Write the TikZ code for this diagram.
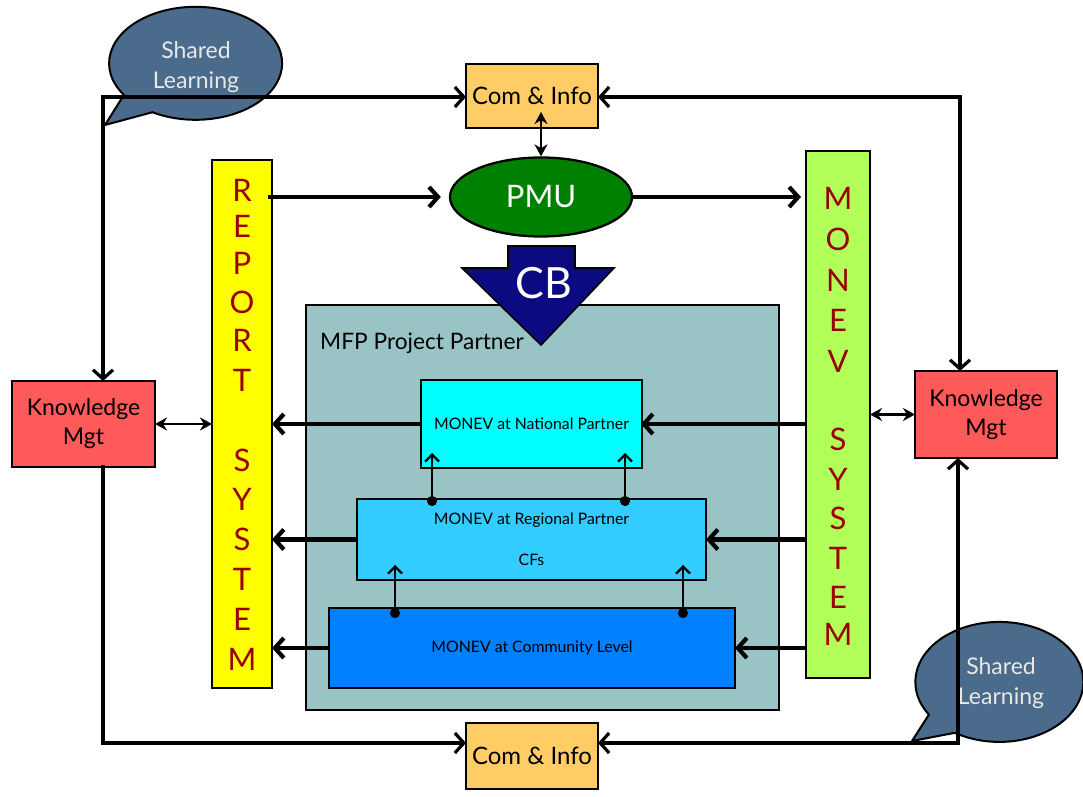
\documentclass[tikz,border=0pt]{standalone}
\usepackage{fontspec}
\setmainfont{Lato}
\usetikzlibrary{arrows.meta,calc,shapes.geometric}
\definecolor{cifill}{RGB}{255,204,102}
\definecolor{pmufill}{RGB}{0,128,0}
\definecolor{cbfill}{RGB}{12,10,128}
\definecolor{partfill}{RGB}{153,195,196}
\definecolor{natfill}{RGB}{0,255,255}
\definecolor{regfill}{RGB}{51,204,255}
\definecolor{comfill}{RGB}{0,128,255}
\definecolor{repfill}{RGB}{255,255,0}
\definecolor{monfill}{RGB}{178,255,89}
\definecolor{kmfill}{RGB}{255,90,90}
\definecolor{bubfill}{RGB}{74,107,140}
\definecolor{lettercol}{RGB}{154,0,0}
\definecolor{bubtext}{RGB}{232,232,232}
\begin{document}
\begin{tikzpicture}[x=1pt,y=1pt,
  box/.style={draw=black, line width=2.3pt, inner sep=0pt, outer sep=0pt},
  conn/.style={line width=3.2pt, line cap=rect, -{Straight Barb[length=9pt,width=20pt]}},
  thickconn/.style={line width=4.2pt, -{Straight Barb[length=9pt,width=20pt]}},
  plain/.style={line width=3.2pt, line cap=rect},
  dbl/.style={line width=2.8pt, {Stealth[length=12pt,width=13pt]}-{Stealth[length=12pt,width=13pt]}},
  inner/.style={line width=2.3pt, {Circle[length=10pt]}-{Straight Barb[length=7pt,width=14pt]}},
  letter/.style={text=lettercol, font=\fontsize{31}{31}\selectfont, inner sep=0pt},
  bubble/.style={fill=bubfill, draw=black, line width=2pt},
  bubtxt/.style={text=bubtext, align=center, font=\fontsize{23}{30}\selectfont},
  midtxt/.style={font=\fontsize{15.8}{18}\selectfont, text=black},
  citxt/.style={font=\fontsize{24}{26}\selectfont},
  kmtxt/.style={align=center, font=\fontsize{23}{29}\selectfont}
]
\useasboundingbox (0,0) rectangle (1083,796);

% speech bubbles
\draw[bubble] (105,671) -- (123.9,701.1) arc (214:-120:86.5pt and 56.5pt) -- cycle;
\node[bubtxt] (sl1) at (196,729) {Shared\\Learning};
\draw[bubble] (912,55) -- (928.9,81.4) arc (213:-122:84pt and 60pt) -- cycle;
\node[bubtxt] (sl2) at (1001,113) {Shared\\Learning};

% partner area
\node[box, fill=partfill, minimum width=473pt, minimum height=405pt] (part) at (542.5,288.5) {};
\node[anchor=west, font=\fontsize{22.7}{24}\selectfont, inner sep=0pt] (partlbl) at (320,453) {MFP Project Partner};

% CB arrow
\draw[fill=cbfill, draw=black, line width=1.6pt] (508,550) -- (575,550) -- (575,528) -- (614,528) -- (541,451) -- (462,528) -- (508,528) -- cycle;
\node[text=white, font=\fontsize{43}{43}\selectfont] (cb) at (544,513) {CB};

% inner monev boxes
\node[box, fill=natfill, minimum width=221pt, minimum height=88pt] (nat) at (531.5,372) {};
\node[midtxt] (natlbl) at (531.5,372) {MONEV at National Partner};
\node[box, fill=regfill, minimum width=349pt, minimum height=81pt] (reg) at (531.5,256.5) {};
\node[midtxt] (reglbl) at (531.5,276) {MONEV at Regional Partner};
\node[midtxt] (cfs) at (531.5,236) {CFs};
\node[box, fill=comfill, minimum width=406pt, minimum height=80pt] (com) at (532,148) {};
\node[midtxt] (comlbl) at (532,148) {MONEV at Community Level};

% top / bottom info boxes
\node[box, fill=cifill, minimum width=132pt, minimum height=64pt, citxt] (ci1) at (532,700) {Com \& Info};
\node[box, fill=cifill, minimum width=132pt, minimum height=66pt, citxt] (ci2) at (532,40) {Com \& Info};

% PMU
\node[ellipse, draw=black, line width=2.3pt, fill=pmufill, minimum width=182pt, minimum height=79pt, inner sep=0pt, text=white, font=\fontsize{31}{31}\selectfont] (pmu) at (541,599) {PMU};

% knowledge mgt
\node[box, fill=kmfill, minimum width=143pt, minimum height=86pt, kmtxt] (km1) at (83.5,372) {Knowledge\\Mgt};
\node[box, fill=kmfill, minimum width=142pt, minimum height=87pt, kmtxt] (km2) at (986,381.5) {Knowledge\\Mgt};

% vertical system bars
\node[box, fill=repfill, minimum width=60pt, minimum height=528pt] (rep) at (242,372) {};
\foreach \ch/\yy [count=\i] in {R/606,E/570,P/533,O/494,R/456,T/416,S/336,Y/297,S/257,T/217,E/177,M/137}
  \node[letter] (rl\i) at (242,\yy) {\ch};
\node[box, fill=monfill, minimum width=64pt, minimum height=527pt] (mon) at (838,381.5) {};
\foreach \ch/\yy [count=\i] in {M/598,O/557,N/516,E/476,V/435,S/357,Y/317,S/278,T/238,E/199,M/162}
  \node[letter] (ml\i) at (838,\yy) {\ch};

% outer loop lines
\coordinate (tl) at (103,699);
\coordinate (tr) at (960,699);
\coordinate (bl) at (103,53);
\coordinate (br) at (958,53);
\draw[conn] (tl) -- (ci1.west |- tl);
\draw[conn] (tl) -- (tl |- km1.north);
\draw[conn] (tr) -- (ci1.east |- tr);
\draw[conn] (tr) -- (tr |- km2.north);
\draw[plain] (bl |- km1.south) -- (bl);
\draw[conn] (bl) -- (ci2.west |- bl);
\draw[conn] (br) -- (ci2.east |- br);
\draw[conn] (br) -- (br |- km2.south);

% PMU flows
\coordinate (repout) at (268,599);
\draw[thickconn, shorten >=8pt] (repout) -- (pmu.west);
\draw[thickconn, shorten >=5pt] (pmu.east) -- (pmu.east -| mon.west);
\coordinate (cipt) at (541,684);
\draw[dbl] (pmu.north) -- (cipt);

% knowledge links
\draw[dbl] (km1.east) -- (km1.east -| rep.west);
\draw[dbl] (mon.east |- km2.west) -- (km2.west);

% reports to REPORT system
\draw[thickconn] (nat.west) -- (nat.west -| rep.east);
\draw[thickconn] (reg.west) -- (reg.west -| rep.east);
\draw[thickconn] (com.west) -- (com.west -| rep.east);
% MONEV system to levels
\draw[thickconn, shorten >=-1pt] (mon.west |- nat.east) -- (nat.east);
\draw[thickconn] (mon.west |- reg.east) -- (reg.east);
\draw[thickconn] (mon.west |- com.east) -- (com.east);

% internal upward links
\coordinate (d1) at (432,290); \coordinate (t1) at (432,343);
\coordinate (d2) at (625,290); \coordinate (t2) at (625,343);
\coordinate (d3) at (395,178); \coordinate (t3) at (395,231);
\coordinate (d4) at (683,178); \coordinate (t4) at (683,231);
\draw[inner] (d1) -- (t1);
\draw[inner] (d2) -- (t2);
\draw[inner] (d3) -- (t3);
\draw[inner] (d4) -- (t4);
\end{tikzpicture}
\end{document}
